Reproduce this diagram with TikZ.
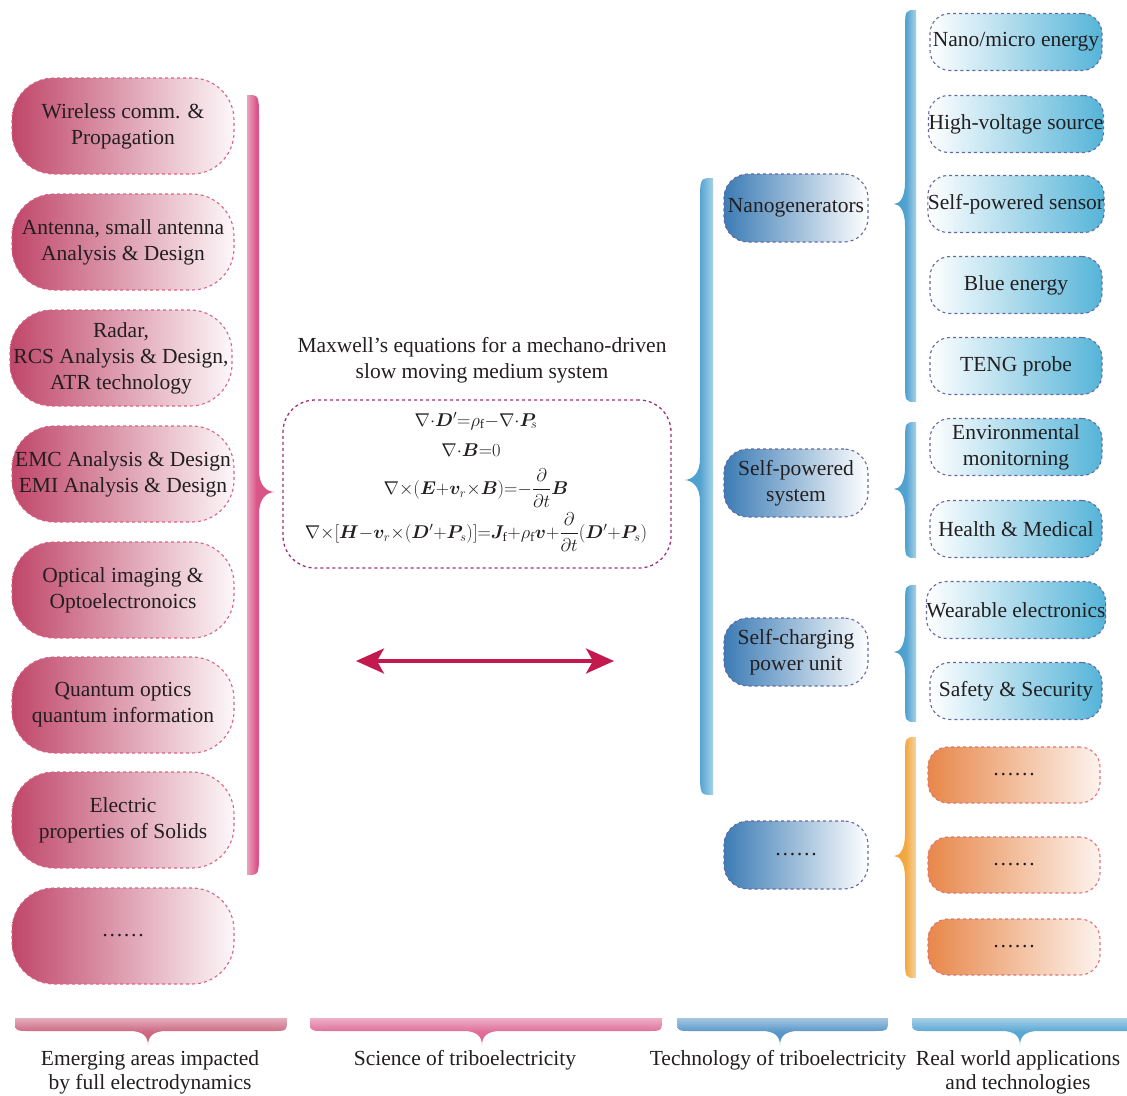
\RequirePackage{fix-cm}
\documentclass[tikz,border=0pt]{standalone}
\usepackage{amsmath}
\usepackage{fontspec}
\setmainfont{Liberation Serif}
\usepackage{bm}
\usetikzlibrary{arrows.meta}
\definecolor{txt}{HTML}{231F20}
\definecolor{pinkD}{HTML}{C0466A}
\definecolor{pinkB}{HTML}{D86486}
\definecolor{pinkBr}{HTML}{DA5587}
\definecolor{pinkBr2}{HTML}{C4506E}
\definecolor{blueD}{HTML}{3C7CB5}
\definecolor{blueL}{HTML}{55B4D8}
\definecolor{blueBr}{HTML}{3F98CB}
\definecolor{blueBr2}{HTML}{3E86C0}
\definecolor{bluedash}{HTML}{6468A4}
\definecolor{orangeD}{HTML}{E8874A}
\definecolor{orangeBr}{HTML}{F0A030}
\definecolor{orangedash}{HTML}{E07272}
\definecolor{purpdash}{HTML}{A0307E}
\definecolor{arrowc}{HTML}{C21A4E}
\pgfdeclarehorizontalshading{brPinkR}{100bp}{color(0bp)=(pinkBr!5); color(20bp)=(pinkBr!40); color(42bp)=(pinkBr); color(100bp)=(pinkBr)}
\pgfdeclarehorizontalshading{brBlueL}{100bp}{color(0bp)=(blueBr); color(52bp)=(blueBr!90); color(78bp)=(blueBr!40); color(100bp)=(blueBr!4)}
\pgfdeclarehorizontalshading{brOrangeL}{100bp}{color(0bp)=(orangeBr); color(52bp)=(orangeBr!90); color(78bp)=(orangeBr!40); color(100bp)=(orangeBr!4)}
\pgfdeclareverticalshading{brPinkA}{100bp}{color(0bp)=(pinkBr2); color(50bp)=(pinkBr2!85); color(100bp)=(pinkBr2!8)}
\pgfdeclareverticalshading{brPinkB}{100bp}{color(0bp)=(pinkBr); color(50bp)=(pinkBr!85); color(100bp)=(pinkBr!8)}
\pgfdeclareverticalshading{brBlueA}{100bp}{color(0bp)=(blueBr2); color(50bp)=(blueBr2!85); color(100bp)=(blueBr2!8)}
\pgfdeclareverticalshading{brBlueB}{100bp}{color(0bp)=(blueBr); color(50bp)=(blueBr!85); color(100bp)=(blueBr!8)}
% vertical brace: #1 xd (tip side edge), #2 y1, #3 y2, #4 ytip, #5 sign, #6 width, #7 tip length, #8 shading
\newcommand{\vbr}[8]{%
\path[shade, shading=#8] ({#1-(#5)*(#6)},#2) .. controls (#1,#2) .. (#1,{#2+2*(#6)}) -- (#1,{#4-22}) .. controls (#1,{#4-6}) and ({#1+(#5)*(#7)*0.5},#4) .. ({#1+(#5)*(#7)},#4) .. controls ({#1+(#5)*(#7)*0.5},#4) and (#1,{#4+6}) .. (#1,{#4+22}) -- (#1,{#3-2*(#6)}) .. controls (#1,#3) .. ({#1-(#5)*(#6)},#3) -- cycle;}
% horizontal brace pointing down: #1 x1, #2 x2, #3 xtip, #4 shading
\newcommand{\hbr}[4]{%
\path[shade, shading=#4] (#1,1018) .. controls (#1,1031) .. ({#1+14},1031) -- ({#3-18},1031) .. controls ({#3-6},1031) and (#3,1036) .. (#3,1045) .. controls (#3,1036) and ({#3+6},1031) .. ({#3+18},1031) -- ({#2-14},1031) .. controls (#2,1031) .. (#2,1018) -- cycle;}
\begin{document}
\begin{tikzpicture}[x=1pt,y=-1pt,
  every node/.style={text=txt, font=\fontsize{21.5}{26}\selectfont, align=center, inner sep=0pt},
  pinkbox/.style={draw=pinkB, dashed, line width=1.1pt, rounded corners=42pt, minimum width=222pt, minimum height=96pt, left color=pinkD, right color=pinkD!4},
  midbox/.style={draw=bluedash, dashed, line width=1.1pt, rounded corners=24pt, minimum width=144pt, minimum height=68pt, left color=blueD, right color=white},
  appbox/.style={draw=bluedash, dashed, line width=1.1pt, rounded corners=20pt, minimum width=172pt, minimum height=57pt, left color=white, right color=blueL},
  orbox/.style={draw=orangedash, dashed, line width=1.1pt, rounded corners=20pt, minimum width=172pt, minimum height=56pt, left color=orangeD, right color=orangeD!10},
  eqbox/.style={draw=purpdash, dashed, line width=1.3pt, rounded corners=32pt, minimum width=388pt, minimum height=168pt},
  eqn/.style={font=\fontsize{18.5}{22}\selectfont},
  lbl/.style={font=\fontsize{21.5}{24}\selectfont}]
\useasboundingbox (0,0) rectangle (1127,1095);
\fill[white] (0,0) rectangle (1127,1095);

% left column
\node[pinkbox] (l1) at (123,126) {Wireless comm. \&\\Propagation};
\node[pinkbox] (l2) at (123,242) {Antenna, small antenna\\Analysis \& Design};
\node[pinkbox] (l3) at (121,358) {Radar,\\RCS Analysis \& Design,\\ATR technology};
\node[pinkbox] (l4) at (123,474) {EMC Analysis \& Design\\EMI Analysis \& Design};
\node[pinkbox] (l5) at (123,590) {Optical imaging \&\\Optoelectronoics};
\node[pinkbox] (l6) at (123,705) {Quantum optics\\quantum information};
\node[pinkbox] (l7) at (123,820) {Electric\\properties of Solids};
\node[pinkbox] (l8) at (123,936) {\ldots\ldots};

% pink brace
\vbr{259}{95}{875}{492}{1}{12}{16}{brPinkR}

% centre
\node (title) at (482,360) {Maxwell’s equations for a mechano-driven\\slow moving medium system};
\node[eqbox] (eq) at (477,484) {};
\node[eqn] (e1) at (476,421) {$\nabla{\cdot}\bm{D}'{=}\rho_{\mathrm f}{-}\nabla{\cdot}\bm{P}_{\!s}$};
\node[eqn] (e2) at (471,450) {$\nabla{\cdot}\bm{B}{=}0$};
\node[eqn] (e3) at (476,488) {$\nabla{\times}(\bm{E}{+}\bm{v}_r{\times}\bm{B}){=}{-}\dfrac{\partial}{\partial t}\bm{B}$};
\node[eqn] (e4) at (476,532) {$\nabla{\times}[\bm{H}{-}\bm{v}_r{\times}(\bm{D}'{+}\bm{P}_s)]{=}\bm{J}_{\mathrm f}{+}\rho_{\mathrm f}\bm{v}{+}\dfrac{\partial}{\partial t}(\bm{D}'{+}\bm{P}_s)$};

\coordinate (al) at (356,661);
\coordinate (ar) at (614,661);
\draw[arrowc, line width=3.5pt, {Stealth[length=28pt,width=25pt,inset=7pt]}-{Stealth[length=28pt,width=25pt,inset=7pt]}] (al) -- (ar);

% technology column
\vbr{700}{178}{795}{480}{-1}{13}{16}{brBlueL}
\node[midbox] (m1) at (796,208) {Nanogenerators};
\node[midbox] (m2) at (796,483) {Self-powered\\system};
\node[midbox] (m3) at (796,652) {Self-charging\\power unit};
\node[midbox] (m4) at (796,855) {\ldots\ldots};

% application braces
\vbr{905}{10}{402}{204}{-1}{11}{11}{brBlueL}
\vbr{905}{422}{558}{489}{-1}{11}{11}{brBlueL}
\vbr{905}{585}{722}{652}{-1}{11}{11}{brBlueL}
\vbr{905}{737}{978}{856}{-1}{11}{11}{brOrangeL}

\node[appbox] (a1) at (1016,42) {Nano/micro energy};
\node[appbox] (a2) at (1016,124) {High-voltage source};
\node[appbox] (a3) at (1016,204) {Self-powered sensor};
\node[appbox] (a4) at (1016,285) {Blue energy};
\node[appbox] (a5) at (1016,366) {TENG probe};
\node[appbox] (a6) at (1016,447) {Environmental\\monitorning};
\node[appbox] (a7) at (1016,529) {Health \& Medical};
\node[appbox] (a8) at (1016,610) {Wearable electronics};
\node[appbox] (a9) at (1016,691) {Safety \& Security};
\node[orbox] (o1) at (1014,775) {\ldots\ldots};
\node[orbox] (o2) at (1014,865) {\ldots\ldots};
\node[orbox] (o3) at (1014,947) {\ldots\ldots};

% bottom braces and labels
\hbr{15}{287}{148}{brPinkA}
\hbr{310}{662}{482}{brPinkB}
\hbr{677}{888}{780}{brBlueA}
\hbr{912}{1140}{1020}{brBlueB}
\node[lbl] (b1) at (150,1072) {Emerging areas impacted\\by full electrodynamics};
\node[lbl] (b2) at (465,1060) {Science of triboelectricity};
\node[lbl] (b3) at (778,1060) {Technology of triboelectricity};
\node[lbl] (b4) at (1018,1072) {Real world applications\\and technologies};
\end{tikzpicture}
\end{document}
